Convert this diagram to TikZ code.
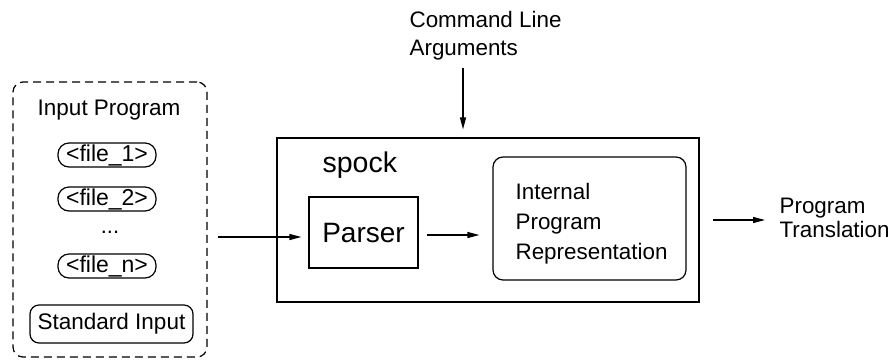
\documentclass[tikz,border=0pt]{standalone}
\usepackage{fontspec}
\setmainfont{Liberation Sans}
\usepackage{tikz}
\usetikzlibrary{arrows.meta}
\tikzstyle{inputgroup} = [rectangle, rounded corners=10pt, dashed, dash pattern=on 8pt off 5pt, draw=black, minimum width=194pt, minimum height=275pt, inner sep=0pt]
\tikzstyle{filebox} = [rectangle, rounded corners=11pt, draw=black, minimum width=98pt, minimum height=24pt, inner sep=0pt, font=\fontsize{23}{26}\selectfont]
\tikzstyle{stdbox} = [rectangle, rounded corners=9pt, draw=black, minimum width=163pt, minimum height=38pt, inner sep=0pt, font=\fontsize{22.5}{26}\selectfont]
\tikzstyle{process} = [rectangle, draw=black, minimum width=109pt, minimum height=71pt, inner sep=0pt, font=\fontsize{28}{32}\selectfont]
\tikzstyle{container} = [rectangle, draw=black, minimum width=422pt, minimum height=164pt, inner sep=0pt]
\tikzstyle{irbox} = [rectangle, rounded corners=10pt, draw=black, minimum width=193pt, minimum height=123pt, inner sep=0pt]
\tikzstyle{textlabel} = [inner sep=0pt, anchor=base west, align=left]
\tikzstyle{arrow} = [line width=1.2pt, -{Triangle[length=12pt, width=6pt]}]

\begin{document}
\begin{tikzpicture}[x=1pt, y=-1pt, line width=1.2pt]
		\useasboundingbox (0,0) rectangle (893,360);
		
		% Input program group
		\node (inputs) [inputgroup] at (110,219.5) {};
		\node (inputtitle) [inner sep=0pt, anchor=base, font=\fontsize{22.5}{26}\selectfont] at (109,115) {Input Program};
		\node (file1) [filebox] at (107,155) {<file\_1>};
		\node (file2) [filebox] at (107,199) {<file\_2>};
		\node (dots) [inner sep=0pt, anchor=base, font=\fontsize{22}{26}\selectfont] at (110,233) {...};
		\node (filen) [filebox] at (107,266) {<file\_n>};
		\node (stdin) [stdbox] at (111.5,324) {Standard Input};
		
		% spock
		\node (spock) [container] at (488,220) {};
		\node (spocklabel) [textlabel, font=\fontsize{28.5}{32}\selectfont] at (322,172) {spock};
		\node (parser) [process] at (363.5,232.5) {Parser};
		\node (ir) [irbox] at (589.5,218.5) {};
		\node (irtext) [textlabel, font=\fontsize{22.4}{30}\selectfont] at (515,259) {Internal\\Program\\Representation};
		
		% Outside labels
		\node (cmd) [textlabel, font=\fontsize{22.4}{28}\selectfont] at (409,55) {Command Line\\Arguments};
		\node (trans) [textlabel, font=\fontsize{22.4}{24}\selectfont] at (779,237) {Program\\Translation};
		
		% Arrows
		\coordinate (inarrow) at (207,237);
		\coordinate (midarrow) at (418,235);
		\coordinate (cmdarrow) at (463,68);
		\draw [arrow, shorten <=11pt, shorten >=7pt] (inarrow) -- (inarrow -| parser.west);
		\draw [arrow, shorten <=9pt, shorten >=13pt] (midarrow) -- (midarrow -| ir.west);
		\draw [arrow, shorten >=8pt] (cmdarrow) -- (cmdarrow |- spock.north);
		\draw [arrow, shorten <=13pt, shorten >=14pt] (spock.east) -- (spock.east -| trans.west);
		
	\end{tikzpicture}
\end{document}
